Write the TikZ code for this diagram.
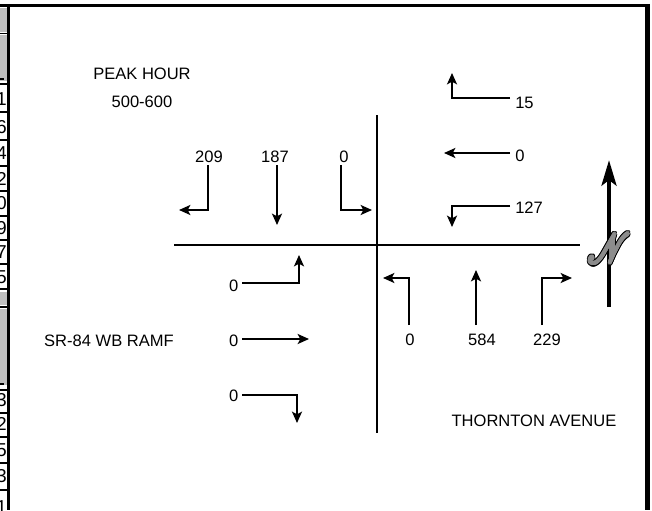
\documentclass[tikz,border=0pt]{standalone}
\usepackage{fontspec}
\setmainfont{Liberation Sans}
\usepackage{mathrsfs}
\usepackage[copies]{contour}
\usetikzlibrary{arrows.meta}

\begin{document}
\begin{tikzpicture}[
  x=0.75pt,
  y=-0.75pt,
  line join=miter,
  road/.style={line width=1.5pt},
  move/.style={line width=1.5pt,-{Stealth[length=8.5pt,width=7.5pt,inset=2pt]}},
  vol/.style={inner sep=0pt,font=\fontsize{12.4}{14}\selectfont},
  cutdigit/.style={inner sep=0pt,anchor=east,font=\fontsize{14}{16}\selectfont},
  northletter/.style={inner sep=0pt,font=\fontsize{46}{46}\selectfont}
]
  \useasboundingbox (0,0) rectangle (652,510);

  % Table strip cut off at the left edge
  \begin{scope}
    \clip (0,0) rectangle (7.5,510);
    \fill[black!25] (0,8) rectangle (8,32);
    \fill[black!25] (0,35) rectangle (8,81);
    \fill[black!25] (0,292) rectangle (8,305);
    \fill[black!25] (0,309) rectangle (8,385);
    \draw[line width=0.8pt] (0,33.5) -- (8,33.5);
    \draw[line width=0.8pt] (0,307) -- (8,307);
    \draw[line width=0.8pt] (0,79) -- (4,79);
    \draw[line width=0.8pt] (0,384) -- (4,384);
    \draw[line width=2pt] (0,84) -- (8,84);
    \draw[line width=2pt] (0,289) -- (8,289);
    \draw[line width=2pt] (0,390) -- (8,390);
    \foreach \yy in {112,140,166,191,216,240,264,413,437,463,490}
      \draw[line width=0.8pt] (0,\yy) -- (8,\yy);
    \foreach \dd/\yy in {1/99,6/127,4/153,2/179,0/203,9/228,7/252,5/277,3/400,2/424,5/450,3/476,1/507}
      \node[cutdigit] at (7,\yy) {\dd};
  \end{scope}

  % Frame
  \draw[line width=2.5pt] (0,5.6) -- (647.5,5.6);
  \draw[line width=2.3pt] (8.5,5.6) -- (8.5,510);
  \draw[line width=3.5pt] (647.5,4) -- (647.5,510);

  % Roads
  \coordinate (rN) at (377,115);
  \coordinate (rS) at (377,433);
  \coordinate (rW) at (174,245);
  \coordinate (rE) at (580,245);
  \draw[road] (rN) -- (rS);
  \draw[road] (rW) -- (rE);

  % Titles
  \node[vol] (peak) at (142,74) {PEAK HOUR};
  \node[vol] (hour) at (142,102) {500-600};
  \node[vol,anchor=east] (ramp) at (174,341) {SR-84 WB RAMF};
  \node[vol] (thornton) at (534,421) {THORNTON AVENUE};

  % Southbound
  \node[vol] (sbR) at (209,157) {209};
  \node[vol] (sbT) at (275,157) {187};
  \node[vol] (sbL) at (344,157) {0};
  \coordinate (sbR0) at (208,165);
  \coordinate (sbT0) at (277,165);
  \coordinate (sbL0) at (341,165);
  \draw[move] (sbR0) |- (179,210);
  \draw[move] (sbT0) -- (277,225);
  \draw[move] (sbL0) |- (372,210);

  % Westbound
  \node[vol,anchor=west] (wbR) at (515,102.5) {15};
  \node[vol,anchor=west] (wbT) at (515,156) {0};
  \node[vol,anchor=west] (wbL) at (515,207.5) {127};
  \coordinate (wbR0) at (510,98);
  \coordinate (wbT0) at (510,153);
  \coordinate (wbL0) at (510,206);
  \draw[move] (wbR0) -| (452,73);
  \draw[move] (wbT0) -- (444,153);
  \draw[move] (wbL0) -| (452,227);

  % Eastbound
  \node[vol,anchor=east] (ebL) at (238.5,286) {0};
  \node[vol,anchor=east] (ebT) at (238.5,341) {0};
  \node[vol,anchor=east] (ebR) at (238.5,396) {0};
  \coordinate (ebL0) at (242,283);
  \coordinate (ebT0) at (242,339);
  \coordinate (ebR0) at (242,395);
  \draw[move] (ebL0) -| (299,255);
  \draw[move] (ebT0) -- (309,339);
  \draw[move] (ebR0) -| (297,423);

  % Northbound
  \node[vol] (nbL) at (410,340) {0};
  \node[vol] (nbT) at (482,340) {584};
  \node[vol] (nbR) at (547,340) {229};
  \coordinate (nbL0) at (409,325);
  \coordinate (nbT0) at (476,325);
  \coordinate (nbR0) at (542,325);
  \draw[move] (nbL0) |- (383,278);
  \draw[move] (nbT0) -- (476,270);
  \draw[move] (nbR0) |- (572,278);

  % North arrow
  \coordinate (nS) at (609,307);
  \coordinate (nT) at (609,160);
  \draw[line width=3.6pt,-{Stealth[length=19pt,width=11pt,inset=4pt]}] (nS) -- (nT);
  \node[northletter] (north) at (609,250)
    {\scalebox{1}[1.25]{\contourlength{1.8pt}\contour{black}{$\mathscr{N}$}%
     \llap{\contourlength{1.1pt}\contour{black!45}{\textcolor{black!45}{$\mathscr{N}$}}}}};
\end{tikzpicture}
\end{document}
